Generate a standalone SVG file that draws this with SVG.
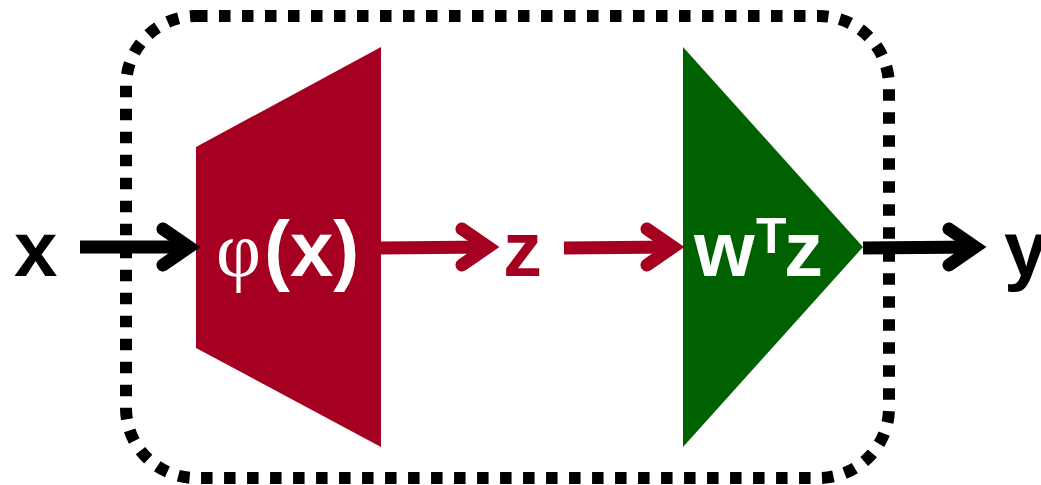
<svg xmlns="http://www.w3.org/2000/svg" width="1041" height="485" viewBox="0 0 1041 485">
<style>
.lbl{font-family:"Liberation Sans",Arial,sans-serif;font-weight:bold;font-size:78px}
.shaft{fill:none;stroke-width:13}
.head{fill:none;stroke-width:13;stroke-linecap:round;stroke-linejoin:miter;stroke-miterlimit:10}
.blk{stroke:#000}
.red{stroke:#A50021}
</style>
<rect width="1041" height="485" fill="#fff"/>
<g id="boundary">
<rect x="126" y="16" width="763" height="462" rx="70" ry="70" fill="none" stroke="#000" stroke-width="12" stroke-dasharray="11.5 11.5"/>
</g>
<g id="encoder">
<polygon points="196,147 381,47 381,447 196,348" fill="#A50021"/>
<text class="lbl" y="276" fill="#fff"><tspan x="216" font-family="Liberation Serif,serif" font-weight="normal">φ</tspan><tspan x="264">(x)</tspan></text>
</g>
<g id="head">
<polygon points="683,47 863,247 683,447" fill="#006100"/>
<text class="lbl" y="276" fill="#fff"><tspan x="694">w</tspan><tspan x="756" y="253" font-size="50">T</tspan><tspan x="784" y="276">z</tspan></text>
</g>
<g id="input"><text class="lbl" x="14" y="276" fill="#000">x</text></g>
<g id="latent"><text class="lbl" x="503" y="276" fill="#A50021">z</text></g>
<g id="output"><text class="lbl" x="1004" y="276" fill="#000">y</text></g>
<g id="connectors">
<line class="shaft blk" x1="80" y1="247" x2="190" y2="247"/>
<polyline class="head blk" points="163,229 189,247 163,265"/>
<line class="shaft red" x1="381" y1="248" x2="489" y2="247"/>
<polyline class="head red" points="462,229 488,247 462,265"/>
<line class="shaft red" x1="564" y1="248" x2="674" y2="247"/>
<polyline class="head red" points="647,229 673,247 647,265"/>
<line class="shaft blk" x1="863" y1="248" x2="976" y2="247"/>
<polyline class="head blk" points="949,229 975,247 949,265"/>
</g>
</svg>
